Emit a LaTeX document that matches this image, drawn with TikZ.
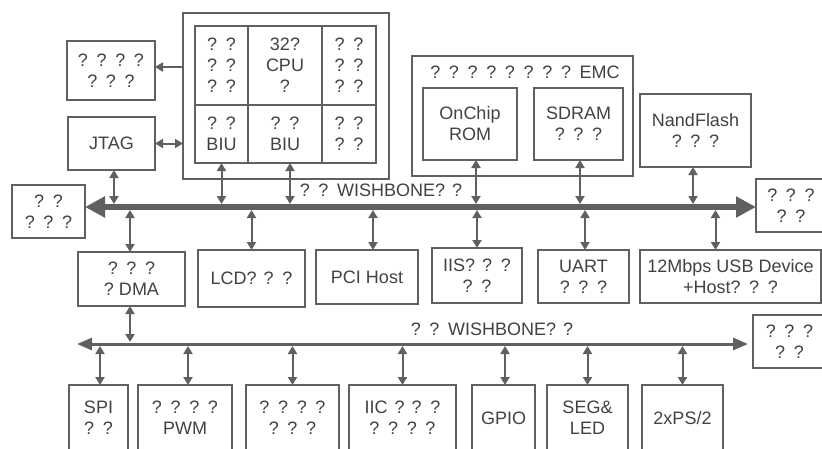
\documentclass[tikz,border=0pt]{standalone}
\usepackage{fontspec}
\setmainfont{Liberation Sans}
\usetikzlibrary{arrows.meta}
\definecolor{linec}{HTML}{606060}
\definecolor{txtc}{HTML}{424242}
\newcommand\labfont{\fontsize{18}{21}\selectfont\spaceskip=7pt plus 1pt\relax}
\newcommand\ns{\hspace{0.278em}}
\begin{document}
\begin{tikzpicture}[x=1pt,y=-1pt,
  box/.style={draw=linec, line width=1.4pt, inner sep=0pt, outer sep=0pt, align=center, text=txtc, font=\labfont},
  lbl/.style={inner sep=0pt, text=txtc, font=\labfont},
  tipA/.tip={Triangle[length=8pt,width=9pt]},
  sarr/.style={draw=linec, line width=2pt, -tipA},
  darr/.style={draw=linec, line width=2pt, tipA-tipA},
  busA/.style={draw=linec, line width=6pt, {Triangle[length=20pt,width=20pt]}-{Triangle[length=20pt,width=20pt]}},
  busB/.style={draw=linec, line width=3pt, {Triangle[length=15pt,width=12pt]}-{Triangle[length=15pt,width=12pt]}}]
\useasboundingbox (0,0) rectangle (822,448);
\clip (0,0) rectangle (822,448);
\fill[white] (0,0) rectangle (822,448);

% bus reference coordinates
\coordinate (b1) at (0,207);
\coordinate (b1t) at (0,204);
\coordinate (b1b) at (0,210);
\coordinate (b2t) at (0,342);
\coordinate (b2b) at (0,346);
\coordinate (b2L) at (77,344);
\coordinate (b2R) at (748,344);

% CPU block
\node[box, line width=1.8pt, minimum width=206, minimum height=166] (cpuo) at (286,96) {};
\node[box, minimum width=53, minimum height=79] (c11) at (221.5,65.5) {? ?\\? ?\\? ?};
\node[box, minimum width=74, minimum height=79] (c12) at (285,65.5) {32?\\CPU\\?};
\node[box, minimum width=54, minimum height=79] (c13) at (349,65.5) {? ?\\? ?\\? ?};
\node[box, minimum width=53, minimum height=58] (c21) at (221.5,134) {? ?\\BIU};
\node[box, minimum width=74, minimum height=58] (c22) at (285,134) {? ?\\BIU};
\node[box, minimum width=54, minimum height=58] (c23) at (349,134) {? ?\\? ?};

\node[box, minimum width=88, minimum height=59] (tl) at (111,70.5) {? ? ? ?\\? ? ?};
\node[box, minimum width=87, minimum height=53] (jtag) at (111.5,143.5) {JTAG};
\coordinate (tla) at ([yshift=3.5pt]tl.east);

% EMC block
\node[box, minimum width=221, minimum height=120] (emc) at (522.5,116) {};
\node[lbl] (emcl) at (525,72) {? ? ? ? ? ? ? ? EMC};
\node[box, minimum width=94, minimum height=72] (rom) at (470,124) {OnChip\\ROM};
\node[box, minimum width=89, minimum height=72] (sdram) at (578.5,124) {SDRAM\\? ? ?};
\node[box, minimum width=111, minimum height=73] (nand) at (695.5,130.5) {NandFlash\\? ? ?};

% side boxes
\node[box, minimum width=73, minimum height=53] (lb) at (48.5,211.5) {? ?\\? ? ?};
\node[box, minimum width=70, minimum height=53] (rb) at (791,205.5) {? ? ?\\? ?};
\node[box, minimum width=73, minimum height=53] (rb2) at (789.5,341.5) {? ? ?\\? ?};

% middle row
\node[box, minimum width=107, minimum height=54] (dma) at (131.5,279) {? ? ?\\?\ns DMA};
\node[box, minimum width=107, minimum height=57] (lcd) at (251.5,278.5) {LCD? ? ?};
\node[box, minimum width=102, minimum height=54] (pci) at (367,277) {PCI\ns Host};
\node[box, minimum width=90, minimum height=55] (iis) at (477,275.5) {IIS? ? ?\\? ?};
\node[box, minimum width=91, minimum height=53] (uart) at (583.5,276.5) {UART\\? ? ?};
\node[box, minimum width=181, minimum height=53] (usb) at (730.5,276.5) {12Mbps\ns USB\ns Device\\+Host? ? ?};

% bottom row
\node[box, minimum width=59, minimum height=66] (spi) at (98.5,418) {SPI\\? ?};
\node[box, minimum width=94, minimum height=66] (pwm) at (185,418) {? ? ? ?\\PWM};
\node[box, minimum width=93, minimum height=66] (b3) at (292.5,418) {? ? ? ?\\? ? ?};
\node[box, minimum width=107, minimum height=66] (iic) at (402.5,418) {IIC ? ? ?\\? ? ? ?};
\node[box, minimum width=63, minimum height=66] (gpio) at (503.5,418) {GPIO};
\node[box, minimum width=81, minimum height=66] (seg) at (587.5,418) {SEG\&\\LED};
\node[box, minimum width=81, minimum height=66] (ps2) at (682.5,418) {2xPS/2};

% buses
\draw[busA] (lb.east |- b1) -- (rb.west |- b1);
\draw[busB] (b2L) -- (b2R);
\node[lbl] (wb1) at (381,190) {? ? WISHBONE? ?};
\node[lbl] (wb2) at (492,329) {? ? WISHBONE? ?};

% upper connectors
\draw[sarr] (cpuo.west |- tla) -- (tla);
\draw[darr] (jtag.east) -- (cpuo.west |- jtag.east);
\draw[darr] ([xshift=2.5pt]jtag.south) -- ([xshift=2.5pt]jtag.south |- b1t);
\draw[darr] (c21.south) -- (c21.south |- b1t);
\draw[darr] ([xshift=5pt]c22.south) -- ([xshift=5pt]c22.south |- b1t);
\draw[darr] ([xshift=6pt]rom.south) -- ([xshift=6pt]rom.south |- b1t);
\draw[darr] ([xshift=1.5pt]sdram.south) -- ([xshift=1.5pt]sdram.south |- b1t);
\draw[darr] ([xshift=-2.5pt]nand.south) -- ([xshift=-2.5pt]nand.south |- b1t);

% lower connectors of bus 1
\draw[darr] ([xshift=-1.5pt]dma.north |- b1b) -- ([xshift=-1.5pt]dma.north);
\draw[darr] (lcd.north |- b1b) -- (lcd.north);
\draw[darr] ([xshift=6pt]pci.north |- b1b) -- ([xshift=6pt]pci.north);
\draw[darr] (iis.north |- b1b) -- (iis.north);
\draw[darr] ([xshift=1.5pt]uart.north |- b1b) -- ([xshift=1.5pt]uart.north);
\draw[darr] ([xshift=-15pt]usb.north |- b1b) -- ([xshift=-15pt]usb.north);

% bus 2 connectors
\draw[darr] ([xshift=-1.5pt]dma.south) -- ([xshift=-1.5pt]dma.south |- b2t);
\draw[darr] ([xshift=1.5pt]spi.north |- b2b) -- ([xshift=1.5pt]spi.north);
\draw[darr] ([xshift=3pt]pwm.north |- b2b) -- ([xshift=3pt]pwm.north);
\draw[darr] (b3.north |- b2b) -- (b3.north);
\draw[darr] (iic.north |- b2b) -- (iic.north);
\draw[darr] ([xshift=1.5pt]gpio.north |- b2b) -- ([xshift=1.5pt]gpio.north);
\draw[darr] (seg.north |- b2b) -- (seg.north);
\draw[darr] (ps2.north |- b2b) -- (ps2.north);
\end{tikzpicture}
\end{document}
